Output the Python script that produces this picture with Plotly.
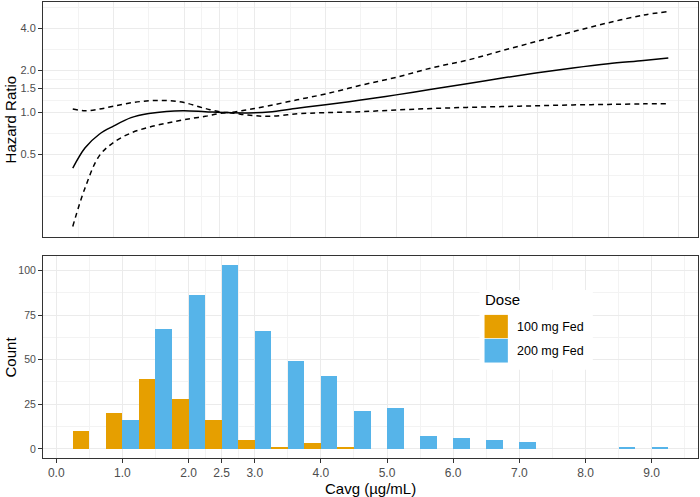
import plotly.graph_objects as go

# ---------------- data ----------------
# Top panel: hazard ratio curve vs Cavg (estimate with 95% CI)
curve_x = [0.425, 0.6, 0.8, 1.0, 1.25, 1.5, 1.75, 2.0, 2.3, 2.6, 2.9, 3.2, 3.6, 4.0,
           4.5, 5.0, 5.5, 6.0, 6.5, 7.0, 7.5, 8.0, 8.5, 8.85]
hr_est = [0.40, 0.56, 0.70, 0.80, 0.92, 0.985, 1.02, 1.03, 1.015, 1.0, 0.995, 1.01, 1.075, 1.14,
          1.23, 1.34, 1.47, 1.61, 1.77, 1.93, 2.09, 2.24, 2.36, 2.46]
hr_upper = [1.06, 1.03, 1.06, 1.11, 1.175, 1.215, 1.22, 1.18, 1.07, 1.0, 1.05, 1.12, 1.235, 1.36,
            1.57, 1.79, 2.09, 2.37, 2.78, 3.25, 3.8, 4.4, 5.0, 5.3]
hr_lower = [0.153, 0.29, 0.49, 0.61, 0.715, 0.785, 0.84, 0.89, 0.94, 1.0, 0.96, 0.94, 0.98, 1.0,
            1.015, 1.045, 1.07, 1.09, 1.105, 1.12, 1.135, 1.145, 1.155, 1.16]

# Bottom panel: histogram counts (bin width 0.5) by dose
bin_centers = [0.5, 1.0, 1.5, 2.0, 2.5, 3.0, 3.5, 4.0, 4.5, 5.0, 5.5, 6.0, 6.5, 7.0, 7.5, 8.0, 8.5, 9.0]
count_100mg = [10, 20, 39, 28, 16, 5, 1, 3, 1, 0, 0, 0, 0, 0, 0, 0, 0, 0]
count_200mg = [0, 16, 67, 86, 103, 66, 49, 41, 21, 23, 7, 6, 5, 4, 0, 0, 1, 1]
dose_labels = ["100 mg Fed", "200 mg Fed"]
dose_colors = ["#E69F00", "#56B4E9"]

# axes ticks
x_ticks = [0, 1, 2, 2.5, 3, 4, 5, 6, 7, 8, 9]
x_ticktext = ["0.0", "1.0", "2.0", "2.5", "3.0", "4.0", "5.0", "6.0", "7.0", "8.0", "9.0"]
x_minor = [0.5, 1.5, 2.25, 2.75, 3.5, 4.5, 5.5, 6.5, 7.5, 8.5, 9.5]
hr_ticks = [0.5, 1.0, 1.5, 2.0, 4.0]
hr_ticktext = ["0.5", "1.0", "1.5", "2.0", "4.0"]
hr_minor = [0.25, 0.3536, 0.7071, 1.2247, 1.7321, 2.8284, 5.6569]
count_ticks = [0, 25, 50, 75, 100]
count_minor = [12.5, 37.5, 62.5, 87.5]

FONT = "Liberation Sans, Arial, sans-serif"
GRID = "#EBEBEB"
MINOR = "#F3F3F3"
BORDER = "#333333"
TICKC = "#4D4D4D"

fig = go.Figure()

fig.add_trace(go.Scatter(x=curve_x, y=hr_upper, mode="lines", xaxis="x", yaxis="y",
                         line=dict(color="black", width=1.5, dash="5px,4px", shape="spline"),
                         showlegend=False))
fig.add_trace(go.Scatter(x=curve_x, y=hr_lower, mode="lines", xaxis="x", yaxis="y",
                         line=dict(color="black", width=1.5, dash="5px,4px", shape="spline"),
                         showlegend=False))
fig.add_trace(go.Scatter(x=curve_x, y=hr_est, mode="lines", xaxis="x", yaxis="y",
                         line=dict(color="black", width=1.5, shape="spline"),
                         showlegend=False))

fig.add_trace(go.Bar(x=bin_centers, y=count_100mg, name=dose_labels[0], width=0.25, offset=-0.25,
                     marker=dict(color=dose_colors[0], line=dict(width=0)),
                     xaxis="x2", yaxis="y2", showlegend=False))
fig.add_trace(go.Bar(x=bin_centers, y=count_200mg, name=dose_labels[1], width=0.25, offset=0,
                     marker=dict(color=dose_colors[1], line=dict(width=0)),
                     xaxis="x2", yaxis="y2", showlegend=False))

common = dict(showline=True, mirror=True, linecolor=BORDER, linewidth=1, zeroline=False,
              showgrid=True, gridcolor=GRID, gridwidth=1)

top_dom = [0.4853, 1.0]
bot_dom = [0.0, 0.443]

fig.update_layout(
    width=700, height=497,
    margin=dict(l=43, r=2, t=2, b=39),
    paper_bgcolor="white", plot_bgcolor="white",
    font=dict(family=FONT, color="black"),
    barmode="overlay", bargap=0,
    showlegend=False,
    xaxis=dict(domain=[0, 1], anchor="y", range=[0.004, 9.27], tickmode="array",
               tickvals=x_ticks, showticklabels=False, ticks="",
               minor=dict(tickmode="array", tickvals=x_minor, showgrid=True,
                          gridcolor=MINOR, gridwidth=1, ticks=""),
               **common),
    yaxis=dict(domain=top_dom, anchor="x", type="log", range=[-0.889, 0.7924],
               tickmode="array", tickvals=hr_ticks, ticktext=hr_ticktext,
               ticks="outside", ticklen=4, tickcolor=BORDER, tickwidth=1,
               tickfont=dict(size=11, color=TICKC, family=FONT),
               minor=dict(tickmode="array", tickvals=hr_minor, showgrid=True,
                          gridcolor=MINOR, gridwidth=1, ticks=""),
               **common),
    xaxis2=dict(domain=[0, 1], anchor="y2", range=[-0.2, 9.7], tickmode="array",
                tickvals=x_ticks, ticktext=x_ticktext,
                ticks="outside", ticklen=4, tickcolor=BORDER, tickwidth=1,
                tickfont=dict(size=12, color=TICKC, family=FONT),
                minor=dict(tickmode="array", tickvals=x_minor, showgrid=True,
                           gridcolor=MINOR, gridwidth=1, ticks=""),
                **common),
    yaxis2=dict(domain=bot_dom, anchor="x2", range=[-5.15, 108.15], tickmode="array",
                tickvals=count_ticks, ticktext=[str(v) for v in count_ticks],
                ticks="outside", ticklen=4, tickcolor=BORDER, tickwidth=1,
                tickfont=dict(size=10.5, color=TICKC, family=FONT),
                minor=dict(tickmode="array", tickvals=count_minor, showgrid=True,
                           gridcolor=MINOR, gridwidth=1, ticks=""),
                **common),
)

# axis titles
fig.add_annotation(text="Hazard Ratio", xref="paper", yref="paper", x=-0.05, y=0.743,
                   textangle=-90, showarrow=False, xanchor="center", yanchor="middle",
                   font=dict(size=15, family=FONT, color="black"))
fig.add_annotation(text="Count", xref="paper", yref="paper", x=-0.05, y=0.221,
                   textangle=-90, showarrow=False, xanchor="center", yanchor="middle",
                   font=dict(size=15, family=FONT, color="black"))
fig.add_annotation(text="Cavg (µg/mL)", xref="paper", yref="paper", x=0.5, y=-0.0665,
                   showarrow=False, xanchor="center", yanchor="middle", borderpad=0,
                   font=dict(size=15, family=FONT, color="black"))

# legend (drawn manually to match the large square keys)
fig.add_shape(type="rect", xref="x2 domain", yref="y2 domain", x0=0.6665, x1=0.8394,
              y0=0.4365, y1=0.832, fillcolor="white", line=dict(width=0), layer="above")
key_y = [(0.5932, 0.7084), (0.4726, 0.5897)]
for (y0, y1), col, lab in zip(key_y, dose_colors, dose_labels):
    fig.add_shape(type="rect", xref="x2 domain", yref="y2 domain", x0=0.6741, x1=0.7097,
                  y0=y0, y1=y1, fillcolor=col, line=dict(width=0), layer="above")
    fig.add_annotation(text=lab, xref="x2 domain", yref="y2 domain", x=0.7205, y=(y0 + y1) / 2,
                       showarrow=False, xanchor="left", yanchor="middle",
                       font=dict(size=12.5, family=FONT, color="black"))
fig.add_annotation(text="Dose", xref="x2 domain", yref="y2 domain", x=0.6715, y=0.785,
                   showarrow=False, xanchor="left", yanchor="middle",
                   font=dict(size=15, family=FONT, color="black"))

fig.write_html("out.html", config={"displayModeBar": False},
               post_script="document.body.style.margin='0';")
